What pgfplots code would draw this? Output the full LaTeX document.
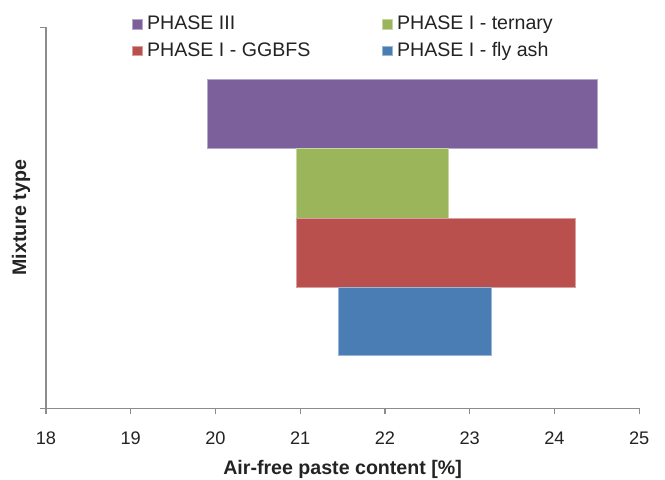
\documentclass[border=0pt]{standalone}
\usepackage{pgfplots}
\pgfplotsset{compat=1.18}
\usepackage{fontspec}
\setmainfont{Liberation Sans}

\definecolor{phIII}{RGB}{123,96,155}
\definecolor{ternary}{RGB}{155,181,91}
\definecolor{ggbfs}{RGB}{186,80,77}
\definecolor{flyash}{RGB}{74,125,180}
\definecolor{axisgray}{RGB}{140,140,140}
\definecolor{txt}{RGB}{35,35,35}

\begin{document}
\begin{tikzpicture}
\begin{axis}[
  scale only axis,
  width=296.6pt, height=190.5pt,
  xmin=18, xmax=25, ymin=0, ymax=1,
  xtick={18,...,25}, ytick={0,1}, yticklabels={},
  axis x line*=bottom, axis y line*=left,
  axis line style={draw=axisgray, line width=0.6pt},
  tick style={draw=axisgray, line width=0.6pt},
  tick align=outside, major tick length=3pt,
  xticklabel shift=5pt,
  /pgf/number format/assume math mode=true,
  ticklabel style={font=\fontsize{9.1}{10}\selectfont, text=txt},
  xlabel={Air-free paste content [\%]},
  ylabel={Mixture type},
  label style={font=\bfseries\fontsize{9.8}{11}\selectfont, text=txt},
  xlabel style={at={(axis description cs:0.5,0)}, anchor=center, yshift=-30.5pt},
  ylabel style={at={(axis description cs:-0.042,0.5)}, anchor=center},
  legend columns=2,
  legend style={draw=none, fill=none, at={(rel axis cs:0.135,1.052)}, anchor=north west,
    font=\fontsize{9.8}{11}\selectfont, text=txt, row sep=0.8pt,
    /tikz/every even column/.append style={column sep=34pt}},
  legend cell align=left,
  legend image code/.code={\fill[#1] (0pt,-2.3pt) rectangle (5pt,2.3pt);},
]
% range bars: low, high along x; band along y
\addplot[fill=phIII, draw=phIII!55!white, line width=0.3pt] coordinates {(19.9,0.6824) (24.5,0.6824) (24.5,0.8635) (19.9,0.8635)} -- cycle;
\addplot[fill=ternary, draw=ternary!55!white, line width=0.3pt] coordinates {(20.95,0.4987) (22.75,0.4987) (22.75,0.6824) (20.95,0.6824)} -- cycle;
\addplot[fill=ggbfs, draw=ggbfs!55!white, line width=0.3pt] coordinates {(20.95,0.3165) (24.25,0.3165) (24.25,0.4987) (20.95,0.4987)} -- cycle;
\addplot[fill=flyash, draw=flyash!55!white, line width=0.3pt] coordinates {(21.45,0.138) (23.25,0.138) (23.25,0.3165) (21.45,0.3165)} -- cycle;
\legend{PHASE III, PHASE I - ternary, PHASE I - GGBFS, PHASE I - fly ash}
\end{axis}
\pgfresetboundingbox
\path (-23pt,-35.85pt) rectangle (309.5pt,204.15pt);
\end{tikzpicture}
\end{document}
